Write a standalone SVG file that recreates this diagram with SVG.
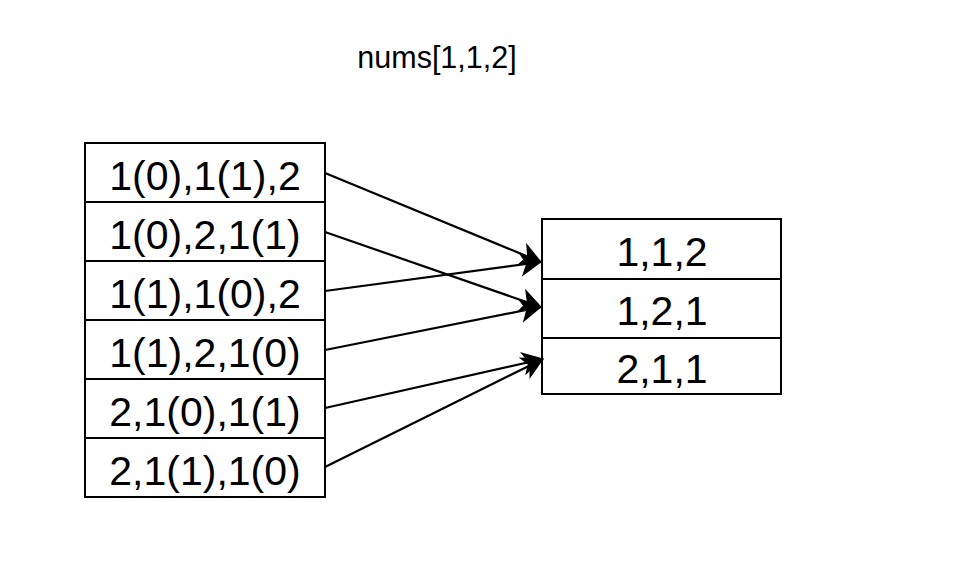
<svg xmlns="http://www.w3.org/2000/svg" width="976" height="577" viewBox="0 0 976 577">
  <style>
    .box { fill: #ffffff; stroke: #000000; stroke-width: 2; }
    .lbl { font-family: "Liberation Sans", Arial, sans-serif; font-size: 41px; fill: #000000; text-anchor: middle; }
    .title { font-family: "Liberation Sans", Arial, sans-serif; font-size: 30.5px; fill: #000000; text-anchor: middle; }
    .edge { fill: none; stroke: #000000; stroke-width: 2.2; }
  </style>
  <defs>
    <marker id="arrow" viewBox="0 0 22 24" refX="21" refY="12" markerWidth="22" markerHeight="24" markerUnits="userSpaceOnUse" orient="auto">
      <path d="M0,0 L22,12 L0,24 L6,12 Z" fill="#000000"/>
    </marker>
  </defs>
  <rect width="976" height="577" fill="#ffffff"/>

  <g id="title">
    <text class="title" x="437" y="68">nums[1,1,2]</text>
  </g>

  <g id="left-perm-1">
    <rect class="box" x="85" y="143" width="240" height="59"/>
    <text class="lbl" x="205" y="190">1(0),1(1),2</text>
  </g>
  <g id="left-perm-2">
    <rect class="box" x="85" y="202" width="240" height="59"/>
    <text class="lbl" x="205" y="249">1(0),2,1(1)</text>
  </g>
  <g id="left-perm-3">
    <rect class="box" x="85" y="261" width="240" height="59"/>
    <text class="lbl" x="205" y="308">1(1),1(0),2</text>
  </g>
  <g id="left-perm-4">
    <rect class="box" x="85" y="320" width="240" height="59"/>
    <text class="lbl" x="205" y="367">1(1),2,1(0)</text>
  </g>
  <g id="left-perm-5">
    <rect class="box" x="85" y="379" width="240" height="59"/>
    <text class="lbl" x="205" y="426">2,1(0),1(1)</text>
  </g>
  <g id="left-perm-6">
    <rect class="box" x="85" y="438" width="240" height="59"/>
    <text class="lbl" x="205" y="485">2,1(1),1(0)</text>
  </g>

  <g id="right-perm-1">
    <rect class="box" x="542" y="219" width="239" height="60"/>
    <text class="lbl" x="662" y="266">1,1,2</text>
  </g>
  <g id="right-perm-2">
    <rect class="box" x="542" y="279" width="239" height="59"/>
    <text class="lbl" x="662" y="325">1,2,1</text>
  </g>
  <g id="right-perm-3">
    <rect class="box" x="542" y="338" width="239" height="56"/>
    <text class="lbl" x="662" y="383">2,1,1</text>
  </g>

  <g id="connectors">
    <line class="edge" x1="325" y1="173" x2="541" y2="262" marker-end="url(#arrow)"/>
    <line class="edge" x1="325" y1="291" x2="541" y2="262" marker-end="url(#arrow)"/>
    <line class="edge" x1="325" y1="232" x2="541" y2="307" marker-end="url(#arrow)"/>
    <line class="edge" x1="325" y1="350" x2="541" y2="307" marker-end="url(#arrow)"/>
    <line class="edge" x1="325" y1="408" x2="543" y2="359" marker-end="url(#arrow)"/>
    <line class="edge" x1="325" y1="467" x2="543" y2="359" marker-end="url(#arrow)"/>
  </g>
</svg>
